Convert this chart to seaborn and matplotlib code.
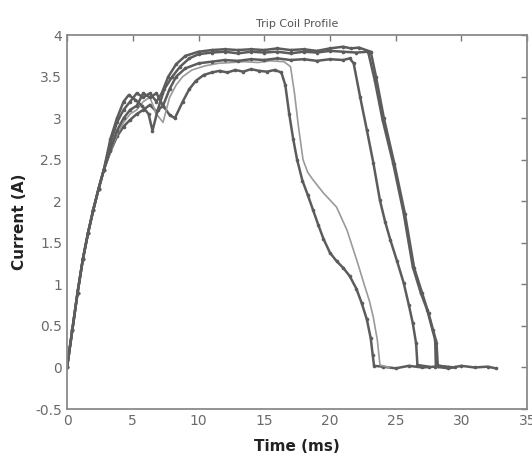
import numpy as np
import pandas as pd
import matplotlib
matplotlib.use('Agg')
import matplotlib.pyplot as plt
import seaborn as sns

sns.set_style('white')
plt.rcParams['font.family'] = ['DejaVu Sans']

# ---- data (time in ms, current in A)
rise_t = [0, 0.4, 0.8, 1.2, 1.6, 2.0, 2.4, 2.8]
rise_i = [0, 0.45, 0.9, 1.3, 1.62, 1.9, 2.15, 2.38]

# curve A - lowest plateau, earliest trip
a_t = rise_t + [3.3, 3.8, 4.3, 4.8, 5.3, 5.8, 6.3, 6.8, 7.3, 7.8, 8.2, 8.8, 9.3, 9.8, 10.4,
                11.0, 11.6, 12.2, 12.8, 13.4, 14.0, 14.6, 15.2, 15.8, 16.3, 16.6, 16.9,
                17.2, 17.5, 17.9, 18.3, 18.7, 19.1, 19.5, 20.0, 20.5, 21.0, 21.5, 22.0,
                22.4, 22.8, 23.1, 23.25, 23.35, 24.0, 25.0, 26.0, 27.0, 28.0, 29.0, 30.0,
                31.0, 32.0, 32.6]
a_i = rise_i + [2.6, 2.78, 2.9, 2.98, 3.05, 3.1, 3.16, 3.08, 3.15, 3.04, 3.0, 3.2, 3.35, 3.45,
                3.52, 3.55, 3.57, 3.55, 3.58, 3.56, 3.59, 3.57, 3.56, 3.58, 3.55, 3.4, 3.05,
                2.75, 2.5, 2.25, 2.08, 1.9, 1.72, 1.55, 1.38, 1.28, 1.2, 1.1, 0.95, 0.78,
                0.58, 0.35, 0.15, 0.02, 0.01, -0.01, 0.02, 0.0, 0.01, -0.01, 0.02, 0.0,
                0.01, -0.01]

# curve B - thin line
b_t = rise_t + [3.3, 3.8, 4.3, 4.8, 5.3, 5.8, 6.3, 6.8, 7.3, 7.8, 8.3, 8.8, 9.5, 10.5, 11.5,
                12.5, 13.5, 14.5, 15.5, 16.5, 17.0, 17.3, 17.6, 17.95, 18.3, 18.7, 19.5,
                20.5, 21.3, 22.1, 22.6, 23.0, 23.3, 23.6, 23.8, 24.5]
b_i = rise_i + [2.6, 2.8, 2.95, 3.05, 3.1, 3.2, 3.25, 3.05, 2.95, 3.25, 3.4, 3.5, 3.58, 3.63,
                3.66, 3.67, 3.68, 3.67, 3.69, 3.68, 3.62, 3.3, 2.9, 2.5, 2.35, 2.26, 2.1,
                1.93, 1.65, 1.26, 1.0, 0.8, 0.6, 0.33, 0.03, 0.0]

# curve C - middle plateau
c_t = rise_t + [3.3, 3.8, 4.3, 4.8, 5.3, 5.8, 6.3, 6.8, 7.3, 7.8, 8.3, 9.0, 10.0, 11.0, 12.0,
                13.0, 14.0, 15.0, 16.0, 17.0, 18.0, 19.0, 20.0, 21.0, 21.5, 21.8, 22.3,
                22.8, 23.3, 23.8, 24.2, 24.6, 25.1, 25.6, 26.0, 26.3, 26.55, 26.65, 27.5]
c_i = rise_i + [2.62, 2.85, 3.0, 3.1, 3.15, 3.3, 3.25, 3.3, 3.15, 3.35, 3.5, 3.6, 3.66, 3.68,
                3.7, 3.69, 3.71, 3.7, 3.72, 3.7, 3.71, 3.69, 3.71, 3.7, 3.72, 3.66, 3.25,
                2.86, 2.46, 2.01, 1.75, 1.53, 1.28, 1.02, 0.75, 0.53, 0.29, 0.03, 0.01]

# curve D - upper plateau
d_t = rise_t + [3.3, 3.8, 4.3, 4.7, 5.2, 5.7, 6.2, 6.5, 6.9, 7.4, 8.0, 8.6, 9.3, 10.0, 11.0,
                12.0, 13.0, 14.0, 15.0, 16.0, 17.0, 18.0, 19.0, 20.0, 21.0, 22.0, 22.9,
                23.4, 24.0, 24.8, 25.6, 26.3, 26.9, 27.4, 27.8, 28.0, 28.05, 29.0]
d_i = rise_i + [2.75, 3.0, 3.2, 3.28, 3.22, 3.15, 3.05, 2.85, 3.1, 3.35, 3.5, 3.62, 3.72,
                3.77, 3.79, 3.8, 3.78, 3.8, 3.79, 3.8, 3.78, 3.8, 3.79, 3.81, 3.8, 3.79,
                3.8, 3.46, 2.98, 2.46, 1.86, 1.21, 0.9, 0.69, 0.45, 0.33, 0.03, 0.0]

# curve E - top plateau
e_t = rise_t + [3.3, 3.8, 4.3, 4.8, 5.3, 5.8, 6.3, 6.8, 7.2, 7.7, 8.3, 9.0, 10.0, 11.0, 12.0,
                13.0, 14.0, 15.0, 16.0, 17.0, 18.0, 19.0, 20.0, 21.0, 21.6, 22.2, 23.1,
                23.5, 24.1, 24.9, 25.7, 26.4, 27.0, 27.5, 28.1, 28.2, 29.5]
e_i = rise_i + [2.7, 2.95, 3.1, 3.2, 3.3, 3.25, 3.3, 3.2, 3.3, 3.5, 3.65, 3.75, 3.8, 3.82,
                3.83, 3.82, 3.83, 3.82, 3.84, 3.82, 3.83, 3.81, 3.84, 3.86, 3.84, 3.85,
                3.8, 3.5, 3.0, 2.45, 1.85, 1.2, 0.9, 0.65, 0.3, 0.02, 0.0]

curves = [
    ('A', a_t, a_i, True),
    ('B', b_t, b_i, False),
    ('C', c_t, c_i, True),
    ('D', d_t, d_i, True),
    ('E', e_t, e_i, True),
]

fig = plt.figure(figsize=(5.32, 4.68), dpi=100)
ax = fig.add_axes([0.126, 0.126, 0.865, 0.799])

for name, t, i, dotted in curves:
    df = pd.DataFrame({'t': t, 'i': i})
    if dotted:
        sns.lineplot(data=df, x='t', y='i', ax=ax, estimator=None, sort=False,
                     color='#5c5c5c', linewidth=1.8, marker='o', markersize=2.6,
                     markeredgewidth=0)
    else:
        sns.lineplot(data=df, x='t', y='i', ax=ax, estimator=None, sort=False,
                     color='#9a9a9a', linewidth=1.2)

ax.set_xlim(0, 35)
ax.set_ylim(-0.5, 4)
ax.set_xticks(range(0, 36, 5))
ax.set_yticks(np.arange(-0.5, 4.01, 0.5))
ax.set_yticklabels(['-0.5', '0', '0.5', '1', '1.5', '2', '2.5', '3', '3.5', '4'])

ax.tick_params(direction='in', top=True, right=True, length=4, width=1,
               colors='#7a7a7a', labelsize=10, labelcolor='#6a6a6a')
for sp in ax.spines.values():
    sp.set_color('#8a8a8a')
    sp.set_linewidth(1.3)

ax.set_title('Trip Coil Profile', fontsize=8, color='#555555', pad=6)
ax.set_xlabel('Time (ms)', fontsize=11, fontweight='bold', color='#222222', labelpad=8)
ax.set_ylabel('Current (A)', fontsize=11, fontweight='bold', color='#222222', labelpad=6)

fig.savefig('out.png', dpi=100, facecolor='white')
